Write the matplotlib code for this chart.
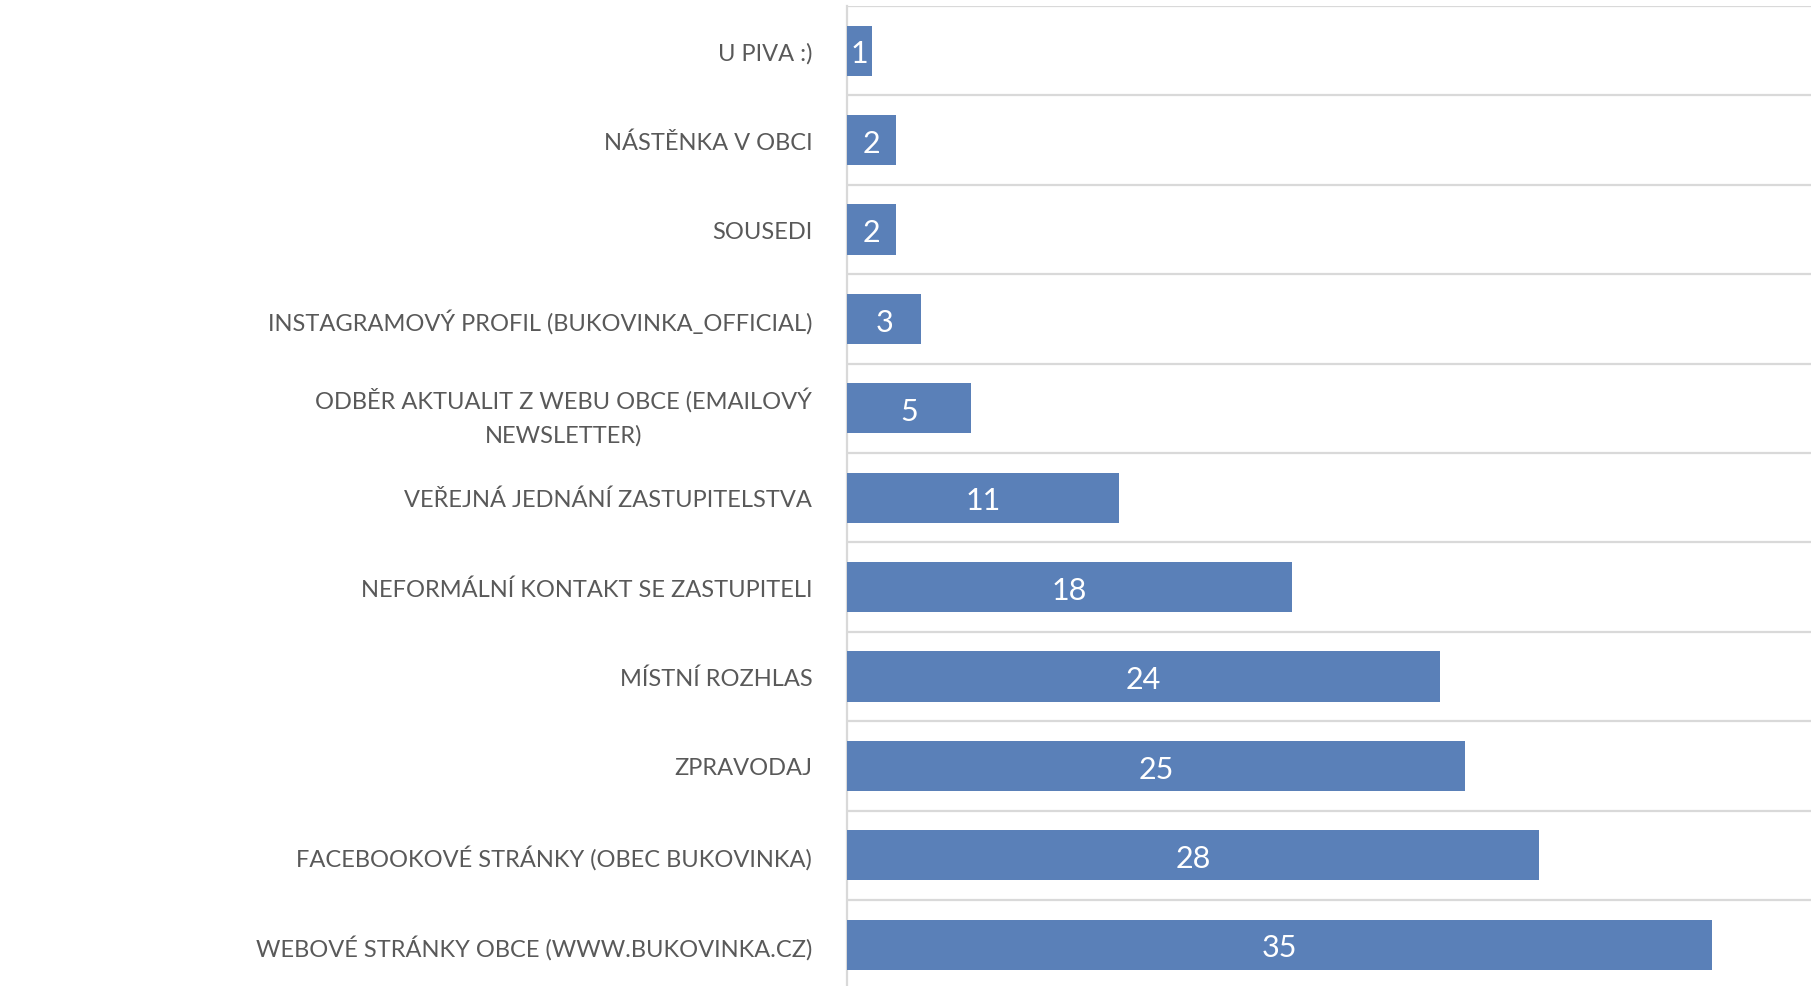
import matplotlib.pyplot as plt
import numpy as np

categories = [
    "U PIVA :)",
    "NÁSTĚNKA V OBCI",
    "SOUSEDI",
    "INSTAGRAMOVÝ PROFIL (BUKOVINKA_OFFICIAL)",
    "ODBĚR AKTUALIT Z WEBU OBCE (EMAILOVÝ\nNEWSLETTER)",
    "VEŘEJNÁ JEDNÁNÍ ZASTUPITELSTVA",
    "NEFORMÁLNÍ KONTAKT SE ZASTUPITELI",
    "MÍSTNÍ ROZHLAS",
    "ZPRAVODAJ",
    "FACEBOOKOVÉ STRÁNKY (OBEC BUKOVINKA)",
    "WEBOVÉ STRÁNKY OBCE (WWW.BUKOVINKA.CZ)",
]
values = [1, 2, 2, 3, 5, 11, 18, 24, 25, 28, 35]

plt.rcParams['font.family'] = ['Lato', 'DejaVu Sans']

W, H = 1811, 987
fig = plt.figure(figsize=(W / 100, H / 100), dpi=100)
# axes placed in pixel terms, bottom runs a bit past the image edge
left, top, bottom = 847, 7, 990.4
ax = fig.add_axes([left / W, (H - bottom) / H, (W - left) / W, (bottom - top) / H])

y = np.arange(len(categories))
bars = ax.barh(y, values, height=0.56, color='#5a80b8', zorder=3)

ax.set_xlim(0, 39)
ax.set_ylim(len(categories) - 0.5, -0.5)

# row separators
for b in np.arange(-0.5, len(categories), 1.0):
    ax.axhline(b, color='#d9d9d9', lw=1.6, zorder=1)

for rect, v in zip(bars, values):
    ax.text(rect.get_width() / 2, rect.get_y() + rect.get_height() / 2 + 0.03, str(v),
            ha='center', va='center', color='white', fontsize=22, zorder=4)

ax.set_yticks(y)
ax.set_yticklabels(categories, fontsize=17, color='#595959',
                   multialignment='center', linespacing=1.7)
ax.tick_params(axis='y', length=0, pad=25)
ax.set_xticks([])

for s in ['top', 'right', 'bottom']:
    ax.spines[s].set_visible(False)
ax.spines['left'].set_color('#d9d9d9')
ax.spines['left'].set_linewidth(1.6)

plt.savefig('out.png', dpi=100)
